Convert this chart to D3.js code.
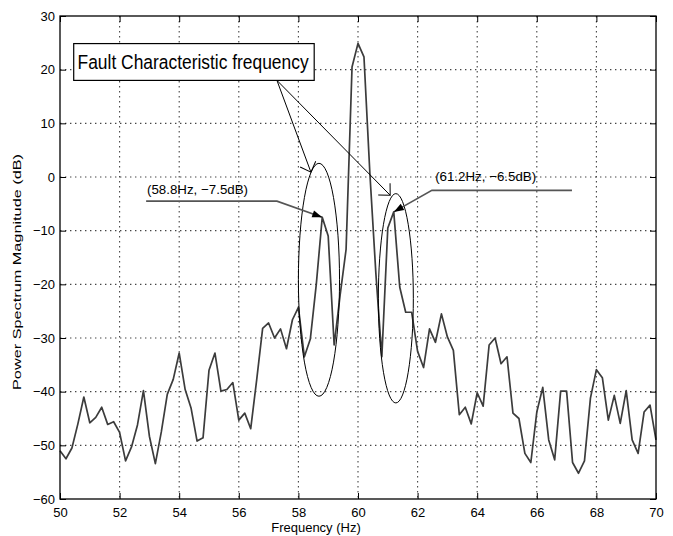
<!DOCTYPE html>
<html>
<head>
<meta charset="utf-8">
<script src="https://cdn.jsdelivr.net/npm/d3@7"></script>
<style>
  body { margin: 0; background: #fff; }
  text { font-family: 'Liberation Sans', Arial, sans-serif; fill: #000; }
</style>
</head>
<body>
<svg id="chart" width="673" height="536"></svg>
<script>
// Power spectrum around the 60 Hz line, with the fault sidebands marked

// spectrum (Hz, dB)
var freqHz = [50.0, 50.2, 50.4, 50.6, 50.8, 51.0, 51.2, 51.4, 51.6, 51.8,
	52.0, 52.2, 52.4, 52.6, 52.8, 53.0, 53.2, 53.4, 53.6, 53.8,
	54.0, 54.2, 54.4, 54.6, 54.8, 55.0, 55.2, 55.4, 55.6, 55.8,
	56.0, 56.2, 56.4, 56.6, 56.8, 57.0, 57.2, 57.4, 57.6, 57.8,
	58.0, 58.2, 58.4, 58.6, 58.8, 59.0, 59.2, 59.4, 59.6, 59.8,
	60.0, 60.2, 60.4, 60.6, 60.8, 61.0, 61.2, 61.4, 61.6, 61.8,
	62.0, 62.2, 62.4, 62.6, 62.8, 63.0, 63.2, 63.4, 63.6, 63.8,
	64.0, 64.2, 64.4, 64.6, 64.8, 65.0, 65.2, 65.4, 65.6, 65.8,
	66.0, 66.2, 66.4, 66.6, 66.8, 67.0, 67.2, 67.4, 67.6, 67.8,
	68.0, 68.2, 68.4, 68.6, 68.8, 69.0, 69.2, 69.4, 69.6, 69.8, 70.0]
var powerDb = [-51, -52.5, -50.5, -46, -41, -45.8, -44.8, -42.9, -46.1, -45.6,
	-47.6, -52.9, -50.3, -46.2, -39.8, -48.3, -53.4, -47.5, -40.5, -37.7,
	-32.8, -39.6, -43.1, -49.2, -48.6, -36, -32.8, -39.9, -39.6, -38.3,
	-45.3, -44, -46.9, -37.8, -28.2, -27.2, -30, -28.3, -32, -26.6,
	-24.3, -33.5, -30.2, -20, -7.5, -11, -31.3, -22, -13.5, 20.5,
	24.9, 22.4, 0.5, -18, -33.5, -9.5, -6.5, -20.5, -25.2, -25.2,
	-32.5, -35.5, -28.3, -30.8, -25.5, -29.8, -32.3, -44.3, -42.9, -46,
	-40.2, -42.7, -31.3, -30, -34.8, -33.5, -44, -45, -51.5, -53.2,
	-43.8, -39.2, -49, -52.7, -39.9, -39.9, -53.2, -55.2, -52.9, -41.2,
	-35.9, -37.4, -45.3, -40.7, -45.9, -39.8, -49, -51.5, -43.8, -42.5, -49]

// axes
var xTicks = [50, 52, 54, 56, 58, 60, 62, 64, 66, 68, 70]
var yTicks = [30, 20, 10, 0, -10, -20, -30, -40, -50, -60]
var xLabel = 'Frequency (Hz)'
var yLabel = 'Power Spectrum Magnitude (dB)'

// annotations, all in data units (Hz, dB)
var boxText = 'Fault Characteristic frequency'
var boxFreq = [50.46, 58.53]
var boxDb = [24.86, 18.0]
var boxTextAt = [50.59, 20.15]
var pointerFrom = [57.28, 18.0]
var pointerTo = [[58.42, 0.9], [61.08, -3.4]]

var ringCenterHz = [58.69, 61.27]
var ringCenterDb = [-19.15, -22.6]
var ringHalfHz = [0.69, 0.587]
var ringHalfDb = [21.7, 19.5]

var peakHz = [58.8, 61.2]
var peakDb = [-7.5, -6.5]
var peakLabels = ['(58.8Hz, \u22127.5dB)', '(61.2Hz, \u22126.5dB)']
var peakLabelAt = [[52.92, -3.2], [62.59, -0.7]]
var leaderStart = [[52.89, -4.5], [67.18, -2.5]]
var leaderElbow = [[57.28, -4.5], [62.48, -2.5]]

var svg = d3.select('#chart'),
	margin = {top: 16, right: 17, bottom: 37, left: 60},
	width = +svg.attr('width') - margin.left - margin.right,
	height = +svg.attr('height') - margin.top - margin.bottom,
	g = svg.append('g').attr('transform', 'translate(' + margin.left + ',' + margin.top + ')')

var x = d3.scaleLinear().domain([50, 70]).range([0, width])
var y = d3.scaleLinear().domain([-60, 30]).range([height, 0])

// dotted grid
g.append('g').selectAll('line').data(xTicks.slice(1, -1))
	.enter().append('line')
	.attr('x1', function(d) { return x(d) }).attr('x2', function(d) { return x(d) })
	.attr('y1', 0).attr('y2', height)
g.append('g').selectAll('line').data(yTicks.slice(1, -1))
	.enter().append('line')
	.attr('x1', 0).attr('x2', width)
	.attr('y1', function(d) { return y(d) }).attr('y2', function(d) { return y(d) })
g.selectAll('g line')
	.attr('stroke', '#444').attr('stroke-width', 1.1)
	.attr('stroke-dasharray', '1.4,3.6')

// inward ticks on all four sides
var axB = g.append('g').attr('transform', 'translate(0,' + height + ')')
	.call(d3.axisBottom(x).tickValues(xTicks).tickSize(-6).tickPadding(9).tickFormat(d3.format('d')))
var axL = g.append('g')
	.call(d3.axisLeft(y).tickValues(yTicks).tickSize(-6).tickPadding(5))
g.append('g').call(d3.axisTop(x).tickValues(xTicks).tickSize(-6).tickFormat(''))
g.append('g').attr('transform', 'translate(' + width + ',0)')
	.call(d3.axisRight(y).tickValues(yTicks).tickSize(-6).tickFormat(''))
g.selectAll('.domain').remove()
g.selectAll('.tick line').attr('stroke', '#000').attr('stroke-width', 1)
axB.selectAll('text').attr('font-size', 13).attr('fill', '#000')
	.attr('font-family', "'Liberation Sans', Arial, sans-serif")
axL.selectAll('text').attr('font-size', 13).attr('fill', '#000')
	.attr('font-family', "'Liberation Sans', Arial, sans-serif")

// the spectrum
var line = d3.line()
	.x(function(d) { return x(d[0]) })
	.y(function(d) { return y(d[1]) })
g.append('path')
	.datum(freqHz.map(function(f, i) { return [f, powerDb[i]] }))
	.attr('d', line)
	.attr('fill', 'none').attr('stroke', '#3c3c3c').attr('stroke-width', 1.7)
	.attr('stroke-linejoin', 'round')

// frame
g.append('rect').attr('width', width).attr('height', height)
	.attr('fill', 'none').attr('stroke', '#000').attr('stroke-width', 1.3)

// axis titles
svg.append('text').text(xLabel)
	.attr('x', 316).attr('y', 532)
	.attr('text-anchor', 'middle').attr('font-size', 13)
svg.append('text').text(yLabel)
	.attr('transform', 'translate(21,272) rotate(-90)')
	.attr('text-anchor', 'middle').attr('font-size', 11.5)
	.attr('textLength', 236).attr('lengthAdjust', 'spacingAndGlyphs')

// markers
var defs = svg.append('defs')
defs.append('marker').attr('id', 'open')
	.attr('markerUnits', 'userSpaceOnUse').attr('markerWidth', 20).attr('markerHeight', 20)
	.attr('orient', 'auto').attr('overflow', 'visible')
	.append('path').attr('d', 'M-8.6,-8.3L0,0L-8.6,8.3')
	.attr('fill', 'none').attr('stroke', '#000').attr('stroke-width', 1)
defs.append('marker').attr('id', 'solid')
	.attr('markerUnits', 'userSpaceOnUse').attr('markerWidth', 20).attr('markerHeight', 20)
	.attr('orient', 'auto').attr('overflow', 'visible')
	.append('path').attr('d', 'M-10,-3.6L0,0L-10,3.6Z').attr('fill', '#000')

// rings round the two sidebands
g.selectAll('ellipse').data(ringCenterHz)
	.enter().append('ellipse')
	.attr('cx', function(d) { return x(d) })
	.attr('cy', function(d, i) { return y(ringCenterDb[i]) })
	.attr('rx', function(d, i) { return x(50 + ringHalfHz[i]) - x(50) })
	.attr('ry', function(d, i) { return y(0) - y(ringHalfDb[i]) })
	.attr('fill', 'none').attr('stroke', '#000').attr('stroke-width', 1)

// leaders to the two peaks
g.selectAll('.leader').data(peakHz)
	.enter().append('path').attr('class', 'leader')
	.attr('d', function(d, i) {
		return line([leaderStart[i], leaderElbow[i], [d, peakDb[i]]])
	})
	.attr('fill', 'none').attr('stroke', '#555').attr('stroke-width', 1.6)
	.attr('marker-end', 'url(#solid)')
g.selectAll('.peaklabel').data(peakLabels)
	.enter().append('text').attr('class', 'peaklabel')
	.text(function(d) { return d })
	.attr('x', function(d, i) { return x(peakLabelAt[i][0]) })
	.attr('y', function(d, i) { return y(peakLabelAt[i][1]) })
	.attr('font-size', 13).attr('textLength', 101).attr('lengthAdjust', 'spacingAndGlyphs')

// callout box and its two pointers
g.selectAll('.pointer').data(pointerTo)
	.enter().append('path').attr('class', 'pointer')
	.attr('d', function(d) { return line([pointerFrom, d]) })
	.attr('fill', 'none').attr('stroke', '#000').attr('stroke-width', 1)
	.attr('marker-end', 'url(#open)')
g.append('rect')
	.attr('x', x(boxFreq[0])).attr('y', y(boxDb[0]))
	.attr('width', x(boxFreq[1]) - x(boxFreq[0]))
	.attr('height', y(boxDb[1]) - y(boxDb[0]))
	.attr('fill', '#fff').attr('stroke', '#000').attr('stroke-width', 1.2)
g.append('text').text(boxText)
	.attr('x', x(boxTextAt[0])).attr('y', y(boxTextAt[1]))
	.attr('font-family', "'Liberation Sans Narrow', 'Liberation Sans', Arial, sans-serif")
	.attr('font-size', 20.5).attr('textLength', 231).attr('lengthAdjust', 'spacingAndGlyphs')
</script>
</body>
</html>
